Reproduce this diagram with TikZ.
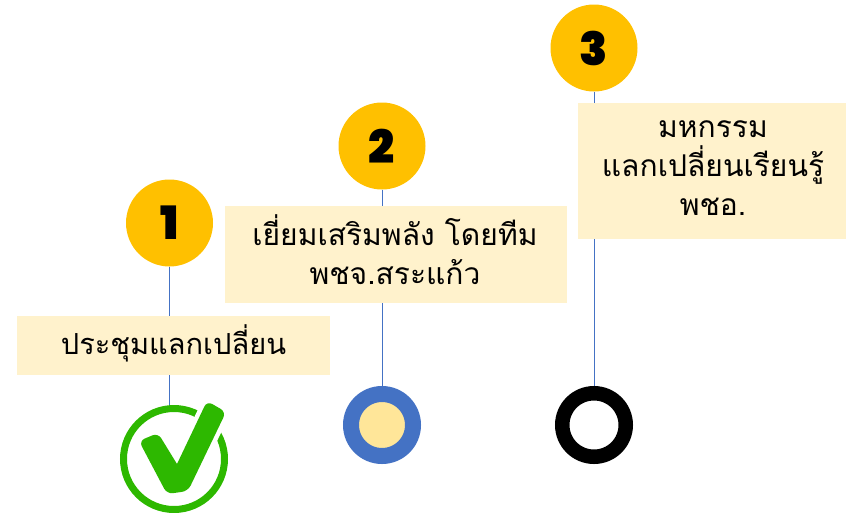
\documentclass[tikz,border=0pt]{standalone}
\usepackage{fontspec}
\newfontfamily\thaifont[Script=Thai]{Loma}
\newfontfamily\numfont{Poppins Black}
\definecolor{gold}{HTML}{FFC000}
\definecolor{cream}{HTML}{FFF2CC}
\definecolor{linkblue}{HTML}{4472C4}
\definecolor{softyellow}{HTML}{FFE699}
\definecolor{tickgreen}{HTML}{2DB800}
\tikzset{
  numdisc/.style={circle,fill=gold,minimum size=87pt,inner sep=0pt,font=\numfont\fontsize{46}{46}\selectfont,text=black},
  noteback/.style={fill=cream,inner sep=0pt},
  notetext/.style={inner sep=0pt,align=center,font=\thaifont\fontsize{30}{39}\selectfont,text=black},
  link/.style={linkblue,line width=0.9pt},
  ringnode/.style={circle,inner sep=0pt},
  tickshape/.style={rounded corners=6pt}
}
\begin{document}
\begin{tikzpicture}[x=1pt,y=-1pt]
\useasboundingbox (0,0) rectangle (846,512);
\node[numdisc] (c1) at (169.5,223) {1};
\node[numdisc] (c2) at (382,146) {2};
\node[numdisc] (c3) at (594,48) {3};
\node[noteback,minimum width=313pt,minimum height=59pt] (b1) at (173.5,345.5) {};
\node[noteback,minimum width=342pt,minimum height=97pt] (b2) at (396,254.5) {};
\node[noteback,minimum width=268pt,minimum height=136pt] (b3) at (712,171) {};
\node[notetext,font=\thaifont\fontsize{29}{39}\selectfont] (l1) at (173.5,343) {ประชุมแลกเปลี่ยน};
\node[notetext] (l2) at (395,250) {เยี่ยมเสริมพลัง โดยทีม\\พชจ.สระแก้ว};
\node[notetext] (l3) at (713,168) {มหกรรม\\แลกเปลี่ยนเรียนรู้\\พชอ.};
\node[circle,minimum size=101pt,inner sep=0pt,draw=tickgreen,line width=7pt] (t1) at (174,459) {};
\node[ringnode,minimum size=62pt,line width=16pt,draw=linkblue,fill=softyellow] (r2) at (382,425) {};
\node[ringnode,minimum size=63.5pt,line width=14.5pt,draw=black,fill=white] (r3) at (594,425) {};
\draw[link] (c1.south) -- (c1.south |- b1.north);
\draw[link] (c1.south |- b1.south) -- (c1.south |- t1.north);
\draw[link] (c2.south) -- (c2.south |- b2.north);
\draw[link] (c2.south |- b2.south) -- (r2.north);
\draw[link] (c3.south) -- (c3.south |- b3.north);
\draw[link] (c3.south |- b3.south) -- (r3.north);
\def\tickpath{(139,441) -- (158,433) [sharp corners] -- (177,464) [rounded corners=6pt] -- (207,401) -- (226,412) -- (188,491) -- (167,494) -- cycle}
\draw[draw=white,line width=9pt,line join=round,tickshape] \tickpath;
\fill[tickgreen,tickshape] \tickpath;
\end{tikzpicture}
\end{document}
